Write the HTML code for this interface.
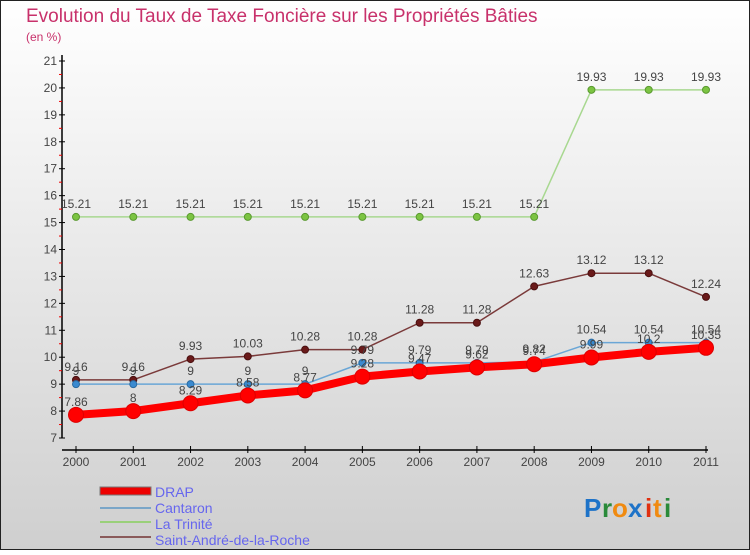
<!DOCTYPE html>
<html><head><meta charset="utf-8"><style>
html,body{margin:0;padding:0;}
body{width:750px;height:550px;overflow:hidden;font-family:"Liberation Sans",sans-serif;}
</style></head><body>
<svg id="chart" width="750" height="550" viewBox="0 0 750 550" xmlns="http://www.w3.org/2000/svg">
<defs><linearGradient id="bg" x1="0" y1="0" x2="0" y2="1"><stop offset="0" stop-color="#ffffff"/><stop offset="1" stop-color="#cfcfcf"/></linearGradient></defs>
<rect x="0.5" y="0.5" width="749" height="549" fill="url(#bg)" stroke="#222" stroke-width="1"/>
<text x="26" y="22" font-size="19" fill="#c8316b">Evolution du Taux de Taxe Foncière sur les Propriétés Bâties</text>
<text x="26" y="41" font-size="12" fill="#c8316b">(en %)</text>
<g id="axes"></g><g id="series"></g><g id="labels"></g>
<g>
<rect x="100" y="487" width="51" height="8" fill="#e00" stroke="#777" stroke-width="1"/>
<line x1="100" y1="508" x2="151" y2="508" stroke="#7aa6c8" stroke-width="2"/>
<line x1="100" y1="522" x2="151" y2="522" stroke="#9ad07a" stroke-width="2"/>
<line x1="100" y1="537" x2="151" y2="537" stroke="#8a5a5a" stroke-width="2"/>
<text x="155" y="497" font-size="14" fill="#6666ee">DRAP</text>
<text x="155" y="513" font-size="14" fill="#6666ee">Cantaron</text>
<text x="155" y="529" font-size="14" fill="#6666ee">La Trinité</text>
<text x="155" y="545" font-size="14" fill="#6666ee">Saint-André-de-la-Roche</text>
</g>
<g font-size="26" font-weight="bold" font-family="Liberation Sans, sans-serif">
<text x="584" y="517" fill="#1e73c8">P</text><text x="602" y="517" fill="#2a8a3a">r</text><text x="612" y="517" fill="#f08a10">o</text><text x="628" y="517" fill="#1e73c8">x</text><text x="645" y="517" fill="#e03010">i</text><text x="653" y="517" fill="#f08a10">t</text><text x="664" y="517" fill="#2a8a3a">i</text>
</g>
</svg>
<script>
const years=["2000","2001","2002","2003","2004","2005","2006","2007","2008","2009","2010","2011"];
const drap=[7.86,8,8.29,8.58,8.77,9.28,9.47,9.62,9.74,9.99,10.2,10.35];
const cantaron=[9,9,9,9,9,9.79,9.79,9.79,9.82,10.54,10.54,10.54];
const trinite=[15.21,15.21,15.21,15.21,15.21,15.21,15.21,15.21,15.21,19.93,19.93,19.93];
const standre=[9.16,9.16,9.93,10.03,10.28,10.28,11.28,11.28,12.63,13.12,13.12,12.24];
const yTicks=[7,8,9,10,11,12,13,14,15,16,17,18,19,20,21];
const NS="http://www.w3.org/2000/svg";
const X=i=>76+i*(706-76)/11;
const Y=v=>438-(v-7)*(438-61)/14;
function mk(tag,attrs,parent,txt){const e=document.createElementNS(NS,tag);for(const k in attrs)e.setAttribute(k,attrs[k]);if(txt!==undefined)e.textContent=txt;document.getElementById(parent).appendChild(e);return e;}
let a;
a=mk("line",{x1:62,y1:55,x2:62,y2:438,stroke:"#000","stroke-width":1.5},"axes");


a=mk("line",{x1:62,y1:450,x2:708,y2:450,stroke:"#000","stroke-width":1.5},"axes");


yTicks.forEach(v=>{
 mk("line",{x1:59,y1:Y(v),x2:65,y2:Y(v),stroke:"#000"},"axes");
 if(v<21) mk("line",{x1:59,y1:Y(v+0.5),x2:62,y2:Y(v+0.5),stroke:"#e00"},"axes");
 const t=mk("text",{x:57,y:Y(v)+4,"font-size":12,fill:"#444","text-anchor":"end"},"axes",String(v));
 
 
});
years.forEach((y,i)=>{
 mk("line",{x1:X(i),y1:446,x2:X(i),y2:453,stroke:"#000"},"axes");
 const t=mk("text",{x:X(i),y:466,"font-size":12,fill:"#444","text-anchor":"middle"},"axes",y);
 
 
});
function series(vals,name,color,w,r,dot,dotStroke){
 const pts=vals.map((v,i)=>X(i)+","+Y(v)).join(" ");
 const p=mk("polyline",{points:pts,fill:"none",stroke:color,"stroke-width":w,"stroke-linejoin":"round"},"series");
 
 
 vals.forEach((v,i)=>{
  const c=mk("circle",{cx:X(i),cy:Y(v),r:r,fill:dot,stroke:dotStroke,"stroke-width":1},"series");
  
  
  const t=mk("text",{x:X(i),y:Y(v)-9,"font-size":12,fill:"#444","text-anchor":"middle"},"labels",String(v));
  
  
 });
}
series(trinite,"la-trinite","#a8d890",1.5,3.5,"#7cc442","#5a9a30");
series(standre,"saint-andre","#7a3a3a",1.5,3.5,"#6a1a1a","#4a1010");
series(cantaron,"cantaron","#6aa6d6",1.5,3.5,"#3a8ad0","#2a6aa0");
series(drap,"drap","#f00",8,7.5,"#f00","#d00");
</script>
</body></html>
